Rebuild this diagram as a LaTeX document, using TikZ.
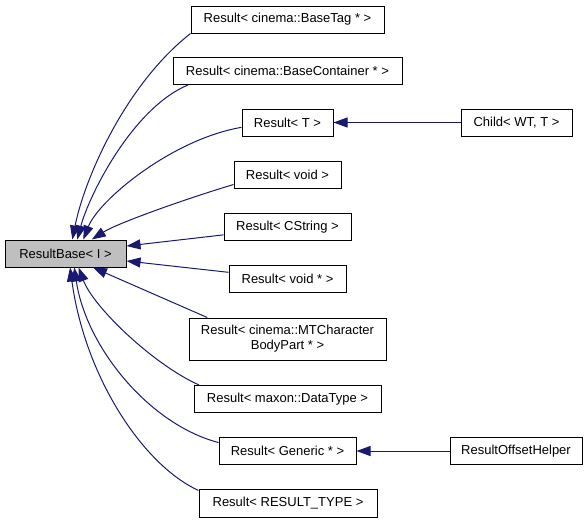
\documentclass[tikz,border=0pt]{standalone}
\usepackage{fontspec}
\setmainfont{Liberation Sans}
\usetikzlibrary{arrows.meta}
\definecolor{midnight}{RGB}{25,25,112}
\definecolor{basegray}{RGB}{191,191,191}
\begin{document}
\begin{tikzpicture}[x=1pt,y=-1pt,
  cls/.style={draw=black,line width=1pt,fill=white,inner sep=0pt,minimum height=27pt,align=center,font=\fontsize{13}{15}\selectfont},
  inh/.style={draw=midnight,line width=1pt,-{Triangle[length=14pt,width=10pt]},fill=none}]
\useasboundingbox (0,0) rectangle (588,523);
\node[cls,fill=basegray,minimum width=121pt] (base) at (65.5,253.5) {ResultBase< I >};
\node[cls,minimum width=193pt] (tag) at (287.5,19.5) {Result< cinema::BaseTag * >};
\node[cls,minimum width=229pt] (cont) at (287.5,71) {Result< cinema::BaseContainer * >};
\node[cls,minimum width=91pt] (resT) at (287.5,122.5) {Result< T >};
\node[cls,minimum width=107pt] (void) at (287.5,175) {Result< void >};
\node[cls,minimum width=127pt] (cstr) at (287.5,227) {Result< CString >};
\node[cls,minimum width=117pt] (vptr) at (287.5,278.5) {Result< void * >};
\node[cls,minimum width=197pt,minimum height=42pt] (mt) at (287.5,339) {Result< cinema::MTCharacter\\BodyPart * >};
\node[cls,minimum width=187pt] (dt) at (287.5,399) {Result< maxon::DataType >};
\node[cls,minimum width=137pt] (gen) at (287.5,451) {Result< Generic * >};
\node[cls,minimum width=178pt,minimum height=28pt] (rt) at (288,503) {Result< RESULT\_TYPE >};
\node[cls,minimum width=111pt] (child) at (516.5,122.5) {Child< WT, T >};
\node[cls,minimum width=132pt] (helper) at (516,451) {ResultOffsetHelper};
% inheritance arrows
\draw[inh] (tag.south west) .. controls +(-66,52) and +(12,-60) .. (base.64);
\draw[inh] (cont.188) .. controls +(-55,23) and +(12,-45) .. (base.50);
\draw[inh] (resT.186) .. controls +(-70,12) and +(15,-39) .. (base.38);
\draw[inh] (void.190) .. controls +(-50,15) and +(25,-16) .. (base.28);
\draw[inh] (cstr.187) -- (base.7);
\draw[inh] (vptr.174) -- (base.353);
\draw[inh] (mt.165) -- (base.-27);
\draw[inh] (dt.171) .. controls +(-45,-20) and +(15,40) .. (base.-47);
\draw[inh] (gen.173) .. controls +(-69,-18) and +(12,80) .. (base.-58);
\draw[inh] (rt.172) .. controls +(-55,-25) and +(15,110) .. (base.-72);
\draw[inh] (child) -- (resT);
\draw[inh] (helper) -- (gen);
\end{tikzpicture}
\end{document}
